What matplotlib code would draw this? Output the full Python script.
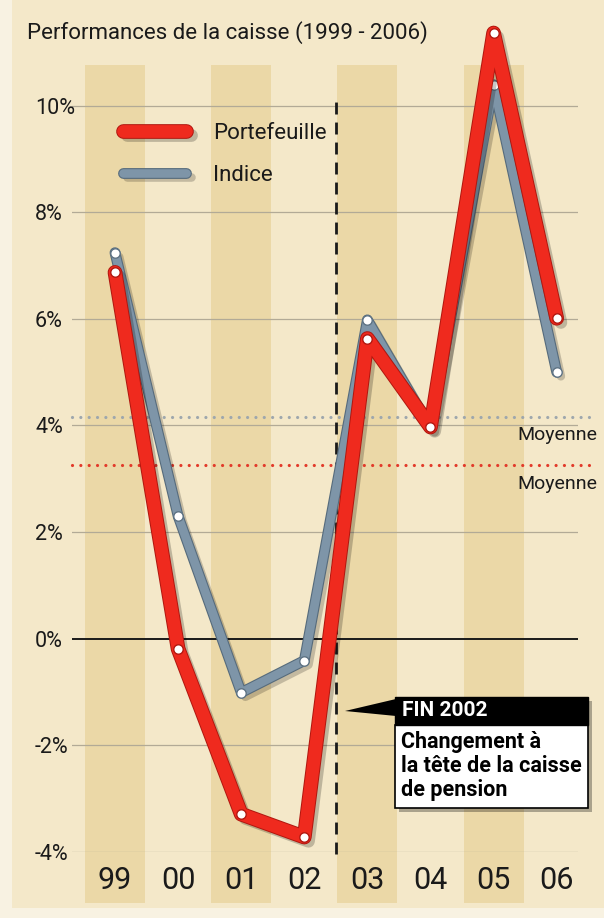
import matplotlib
matplotlib.use('Agg')
import matplotlib.pyplot as plt
import matplotlib.patheffects as pe
from matplotlib.patches import Rectangle, Polygon

# ---------------- data ----------------
years = ['99', '00', '01', '02', '03', '04', '05', '06']
portefeuille = [6.87, -0.19, -3.29, -3.72, 5.63, 3.97, 11.36, 6.01]
indice = [7.24, 2.30, -1.01, -0.41, 5.98, 3.95, 10.39, 5.00]
moy_portefeuille = 3.25
moy_indice = 4.15
yticks = [-4, -2, 0, 2, 4, 6, 8, 10]
ytick_labels = ['-4%', '-2%', '0%', '2%', '4%', '6%', '8%', '10%']
title = 'Performances de la caisse (1999 - 2006)'
series_labels = ['Portefeuille', 'Indice']
avg_label = 'Moyenne'
note_head = 'FIN 2002'
note_body = 'Changement à\nla tête de la caisse\nde pension'
change_pos = 3.5  # between 02 and 03

# ---------------- layout helpers ----------------
plt.rcParams['font.family'] = ['Roboto', 'DejaVu Sans']
W, H = 604, 918
X0PX, DXPX = 115.0, 63.1      # pixel of first category, pixels per category
Y0PX, DYPX = 640.0, 53.43     # pixel of 0 %, pixels per 1 %


def fx(px):
    return px / W


def fy(py):
    return 1 - py / H


def xv(px):
    return (px - X0PX) / DXPX


def yv(py):
    return (Y0PX - py) / DYPX


fig = plt.figure(figsize=(W / 100, H / 100), dpi=100)
fig.patch.set_facecolor('#f8f2e2')
fig.add_artist(Rectangle((fx(12), fy(908)), fx(604) - fx(12), fy(0) - fy(908),
                         transform=fig.transFigure, facecolor='#f4e8c9',
                         edgecolor='none', zorder=0))

ax = fig.add_axes([fx(72), fy(852), (578 - 72) / W, (852 - 20) / H])
ax.set_facecolor('none')
for s in ax.spines.values():
    s.set_visible(False)

x = list(range(len(years)))

# alternating stripes
stripe_bottom, stripe_top = yv(905), yv(65)
ax.bar(x[::2], [stripe_top - stripe_bottom] * len(x[::2]), bottom=stripe_bottom,
       width=0.95, color='#ebd8a7', clip_on=False, zorder=0)

# gridlines
for t in yticks:
    if t == 0:
        ax.axhline(t, color='#1a1a1a', lw=1.4, zorder=1)
    else:
        ax.axhline(t, color='#b2aa96', lw=0.9, zorder=1)

# average dotted lines
xa, xb = xv(72), xv(597)
ax.plot([xa, xb], [moy_indice, moy_indice], color='#9ea7ad', lw=2.3,
        ls=(0, (0.01, 2.6)), dash_capstyle='round', clip_on=False, zorder=1.5)
ax.plot([xa, xb], [moy_portefeuille, moy_portefeuille], color='#e23a2a', lw=2.3,
        ls=(0, (0.01, 2.6)), dash_capstyle='round', clip_on=False, zorder=1.5)
ax.annotate(avg_label, xy=(xb, moy_indice), xytext=(0, -12.5), textcoords='offset points',
            ha='right', va='center', fontsize=14, color='#1a1a1a', annotation_clip=False)
ax.annotate(avg_label, xy=(xb, moy_portefeuille), xytext=(0, -13.5), textcoords='offset points',
            ha='right', va='center', fontsize=14, color='#1a1a1a', annotation_clip=False)

# vertical dashed line
ax.plot([change_pos, change_pos], [yv(856), yv(100)], color='#1a1a1a', lw=2.0,
        ls=(0, (4.3, 2.9)), clip_on=False, zorder=2)

# series
gray_pe = [pe.SimpleLineShadow(offset=(3, -3), shadow_color='black', alpha=0.2),
           pe.Stroke(linewidth=7.8, foreground='#566b7c'), pe.Normal()]
red_pe = [pe.SimpleLineShadow(offset=(3, -3), shadow_color='black', alpha=0.22),
          pe.Stroke(linewidth=10.6, foreground='#b0170f'), pe.Normal()]

gray_line, = ax.plot(x, indice, color='#7e95a8', lw=6.2, solid_capstyle='round',
                     solid_joinstyle='round', path_effects=gray_pe, zorder=4,
                     clip_on=False)
ax.plot(x, indice, 'o', ms=6.8, mfc='white', mec='#5d7283', mew=1.0, zorder=5,
        clip_on=False)
red_line, = ax.plot(x, portefeuille, color='#ef2a1e', lw=9.2, solid_capstyle='round',
                    solid_joinstyle='round', path_effects=red_pe, zorder=6,
                    clip_on=False)
ax.plot(x, portefeuille, 'o', ms=6.8, mfc='white', mec='#b3170f', mew=1.0, zorder=7,
        clip_on=False)

ax.set_xlim(xv(72), xv(578))
ax.set_ylim(yv(852), yv(20))

# ticks
ax.set_yticks(yticks, ytick_labels)
ax.tick_params(axis='y', length=0, pad=26.6, labelsize=15.5, labelcolor='#1a1a1a')
for lbl in ax.get_yticklabels():
    lbl.set_horizontalalignment('left')
ax.set_xticks(x, years)
ax.tick_params(axis='x', length=0, pad=10, labelsize=22, labelcolor='#1a1a1a')

# legend
leg = ax.legend(handles=[red_line, gray_line], labels=series_labels, loc='upper left',
                bbox_to_anchor=(fx(123), fy(123)), bbox_transform=fig.transFigure,
                frameon=False, borderpad=0, borderaxespad=0, handlelength=2.85,
                handletextpad=1.2, labelspacing=0.95, fontsize=16)
for t in leg.get_texts():
    t.set_color('#1a1a1a')

# title
fig.text(fx(27), fy(33), title, fontsize=16, va='center', ha='left', color='#1a1a1a')

# annotation box
fig.add_artist(Rectangle((fx(399), fy(812)), fx(588) - fx(395), fy(697) - fy(808),
                         transform=fig.transFigure, facecolor='black', alpha=0.3,
                         edgecolor='none', zorder=8))
fig.add_artist(Rectangle((fx(395), fy(808)), fx(588) - fx(395), fy(725) - fy(808),
                         transform=fig.transFigure, facecolor='white',
                         edgecolor='black', lw=1.2, zorder=9))
fig.add_artist(Rectangle((fx(395), fy(725)), fx(588) - fx(395), fy(697) - fy(725),
                         transform=fig.transFigure, facecolor='black',
                         edgecolor='black', lw=1.0, zorder=9))
fig.add_artist(Polygon([(fx(396), fy(699)), (fx(345), fy(711)), (fx(396), fy(716))],
                       closed=True, transform=fig.transFigure, facecolor='black',
                       edgecolor='none', zorder=9))
fig.text(fx(402), fy(711), note_head, color='white', fontsize=15, fontweight='bold',
         va='center', ha='left', zorder=10)
fig.text(fx(401), fy(766), note_body, color='black', fontsize=15.5, fontweight='bold',
         va='center', ha='left', linespacing=1.13, zorder=10)

fig.savefig('out.png', dpi=100, facecolor=fig.get_facecolor())
